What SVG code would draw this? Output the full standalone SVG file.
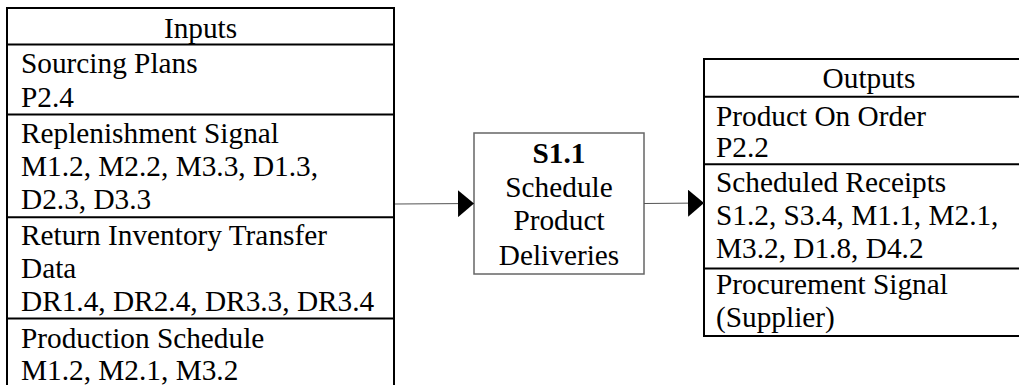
<svg xmlns="http://www.w3.org/2000/svg" width="1019" height="385" viewBox="0 0 1019 385">
  <style>
    text { font-size: 29.3px; fill: #000; }
    .c { text-anchor: middle; }
    .b { font-weight: bold; }
    .frame { fill: #fff; stroke: #000; stroke-width: 2; }
    .rule { stroke: #000; stroke-width: 2; }
    .proc { fill: #fff; stroke: #666; stroke-width: 1.5; }
    .flow { stroke: #555; stroke-width: 1.2; fill: none; marker-end: url(#head); }
  </style>
  <defs>
    <marker id="head" markerUnits="userSpaceOnUse" markerWidth="16" markerHeight="27" refX="16" refY="13.5" orient="auto">
      <path d="M0,0 L16,13.5 L0,27 Z" fill="#000"/>
    </marker>
  </defs>

  <rect width="1019" height="385" fill="#fff"/>

  <g font-family="Liberation Serif, Tinos, Times New Roman, serif">
  <!-- input list -->
  <g id="inputs">
    <rect class="frame" x="7" y="8" width="387" height="390"/>
    <line class="rule" x1="7" y1="44.5" x2="394" y2="44.5"/>
    <line class="rule" x1="7" y1="114.5" x2="394" y2="114.5"/>
    <line class="rule" x1="7" y1="217.3" x2="394" y2="217.3"/>
    <line class="rule" x1="7" y1="318.5" x2="394" y2="318.5"/>
    <text class="c" x="200.5" y="37.7">Inputs</text>
    <text x="21" y="73.3">Sourcing Plans</text>
    <text x="21" y="106.5">P2.4</text>
    <text x="21" y="142.7">Replenishment Signal</text>
    <text x="21" y="176">M1.2, M2.2, M3.3, D1.3,</text>
    <text x="21" y="208.5">D2.3, D3.3</text>
    <text x="21" y="245">Return Inventory Transfer</text>
    <text x="21" y="278">Data</text>
    <text x="21" y="310.5">DR1.4, DR2.4, DR3.3, DR3.4</text>
    <text x="21" y="348">Production Schedule</text>
    <text x="21" y="380">M1.2, M2.1, M3.2</text>
  </g>

  <!-- process step -->
  <g id="s1-1">
    <rect class="proc" x="474" y="133" width="170" height="141"/>
    <text class="c b" x="559" y="163">S1.1</text>
    <text class="c" x="559" y="196.5">Schedule</text>
    <text class="c" x="559" y="230">Product</text>
    <text class="c" x="559" y="264.5">Deliveries</text>
  </g>

  <!-- output list -->
  <g id="outputs">
    <rect class="frame" x="704" y="59" width="330" height="277"/>
    <line class="rule" x1="704" y1="96.7" x2="1034" y2="96.7"/>
    <line class="rule" x1="704" y1="164.3" x2="1034" y2="164.3"/>
    <line class="rule" x1="704" y1="268.5" x2="1034" y2="268.5"/>
    <text class="c" x="869" y="88">Outputs</text>
    <text x="716" y="125.5">Product On Order</text>
    <text x="716" y="157">P2.2</text>
    <text x="716" y="192">Scheduled Receipts</text>
    <text x="716" y="225">S1.2, S3.4, M1.1, M2.1,</text>
    <text x="716" y="257.5">M3.2, D1.8, D4.2</text>
    <text x="716" y="294">Procurement Signal</text>
    <text x="716" y="326.5">(Supplier)</text>
  </g>
  </g>

  <!-- flows -->
  <g id="connectors">
    <line class="flow" x1="395" y1="204" x2="474" y2="203.5"/>
    <line class="flow" x1="644" y1="203.5" x2="704" y2="203"/>
  </g>
</svg>
